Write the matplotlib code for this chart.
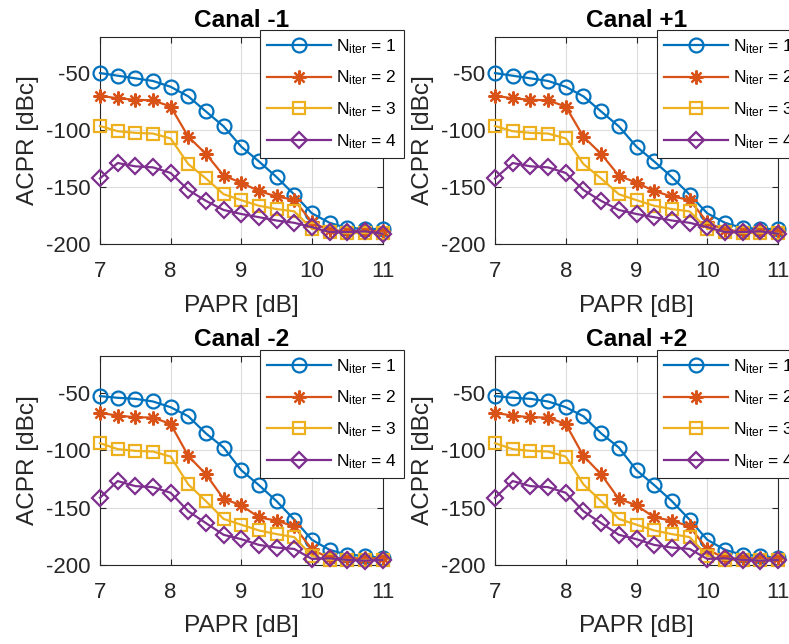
import numpy as np
import matplotlib
matplotlib.use("Agg")
import matplotlib.pyplot as plt

plt.rcParams['font.family'] = ['Liberation Sans', 'DejaVu Sans']
plt.rcParams['mathtext.fontset'] = 'custom'
plt.rcParams['mathtext.rm'] = 'Liberation Sans'
plt.rcParams['mathtext.it'] = 'Liberation Sans'
plt.rcParams['axes.unicode_minus'] = False

papr = [7, 7.25, 7.5, 7.75, 8, 8.25, 8.5, 8.75, 9, 9.25, 9.5, 9.75, 10, 10.25, 10.5, 10.75, 11]

# Canal -1 / +1
c1_n1 = [-50, -52.3, -54.6, -56.9, -62, -70.4, -83.6, -96.6, -114.4, -127.3, -141, -156.3, -172.7, -181, -185.6, -186.2, -186.8]
c1_n2 = [-69.8, -72.1, -73.3, -73.9, -79.3, -105.7, -120.7, -139.7, -146, -153.2, -158, -160.9, -180.5, -187.6, -188.2, -188.2, -188.2]
c1_n3 = [-96.3, -100.9, -102.3, -102.9, -107.2, -129.6, -142.2, -156, -161.2, -166.1, -169, -171, -186.2, -189, -190, -190, -190]
c1_n4 = [-142.2, -128.7, -131.6, -132.5, -137.4, -152.3, -161.8, -169.8, -173.3, -176.1, -179, -181, -184.8, -189.1, -189.1, -188.5, -190.5]

# Canal -2 / +2
c2_n1 = [-52.9, -54.4, -55.3, -57.6, -62.6, -70.5, -85.4, -97.7, -117.5, -130.4, -144.4, -160.5, -178, -186.8, -191.2, -191.8, -194.2]
c2_n2 = [-67.5, -69.9, -71.3, -71.6, -77.2, -105, -121, -142.4, -148, -158.5, -161.4, -166.4, -186.3, -194.2, -194.2, -194.2, -194.2]
c2_n3 = [-93.9, -99.1, -100.6, -101.2, -105.6, -129.8, -144.4, -159.9, -164.9, -169.9, -173.1, -175.7, -192.1, -195.6, -195.6, -195.6, -195.6]
c2_n4 = [-141.5, -126.9, -131.3, -132.2, -137.1, -153.2, -163.5, -173.7, -177.5, -182.5, -184.8, -186, -194.7, -194.2, -195.6, -196.2, -195.6]

titles = ['Canal -1', 'Canal +1', 'Canal -2', 'Canal +2']
series_sets = [
    [c1_n1, c1_n2, c1_n3, c1_n4],
    [c1_n1, c1_n2, c1_n3, c1_n4],
    [c2_n1, c2_n2, c2_n3, c2_n4],
    [c2_n1, c2_n2, c2_n3, c2_n4],
]
labels = [r'N$_{\mathrm{iter}}$ = 1', r'N$_{\mathrm{iter}}$ = 2',
          r'N$_{\mathrm{iter}}$ = 3', r'N$_{\mathrm{iter}}$ = 4']
colors = ['#0072BD', '#D95319', '#EDB120', '#7E2F8E']
markers = ['o', (8, 2, 0), 's', 'D']
msizes = [10, 10, 8.5, 8.5]

W, H = 789, 644
fig = plt.figure(figsize=(W / 100, H / 100), dpi=100)

# axes rectangles in pixels: left, top, right, bottom
rects = [(100, 36.5, 382.5, 244.5), (495, 36.5, 778, 244.5),
         (100, 356, 382.5, 565), (495, 356, 778, 565)]
leg_pos = [(260, 30), (657, 30), (260, 350), (657, 350)]

axis_color = '#262626'
for i, (l, t, r, b) in enumerate(rects):
    ax = fig.add_axes([l / W, 1 - b / H, (r - l) / W, (b - t) / H])
    for ys, c, m, ms, lab in zip(series_sets[i], colors, markers, msizes, labels):
        ax.plot(papr, ys, color=c, marker=m, markersize=ms, markerfacecolor='none',
                markeredgewidth=1.6, linewidth=1.6, label=lab, clip_on=False, zorder=3)
    ax.set_xlim(7, 11)
    ax.set_ylim(-200, -18)
    ax.set_xticks([7, 8, 9, 10, 11])
    ax.set_yticks([-200, -150, -100, -50])
    ax.grid(True, color='#dcdcdc', linewidth=0.8)
    ax.set_axisbelow(True)
    ax.tick_params(direction='in', length=4, labelsize=16, colors=axis_color,
                   top=True, right=True)
    ax.tick_params(axis='x', pad=12)
    ax.tick_params(axis='y', pad=7)
    for s in ax.spines.values():
        s.set_color(axis_color)
        s.set_linewidth(0.8)
    ax.set_xlabel('PAPR [dB]', fontsize=17.6, color=axis_color, labelpad=9)
    ax.set_ylabel('ACPR [dBc]', fontsize=17.6, color=axis_color, labelpad=5)
    ax.set_title(titles[i], fontsize=17.6, fontweight='bold', pad=7)
    lx, ly = leg_pos[i]
    leg = ax.legend(loc='upper left', bbox_to_anchor=(lx / W, 1 - ly / H),
                    bbox_transform=fig.transFigure, borderaxespad=0,
                    fontsize=12.5, handlelength=3.7, handletextpad=0.3,
                    labelspacing=0.75, borderpad=0.4, fancybox=False,
                    framealpha=1, edgecolor=axis_color)
    leg.get_frame().set_linewidth(0.8)
    leg.set_zorder(10)

fig.savefig('out.png', dpi=100)
